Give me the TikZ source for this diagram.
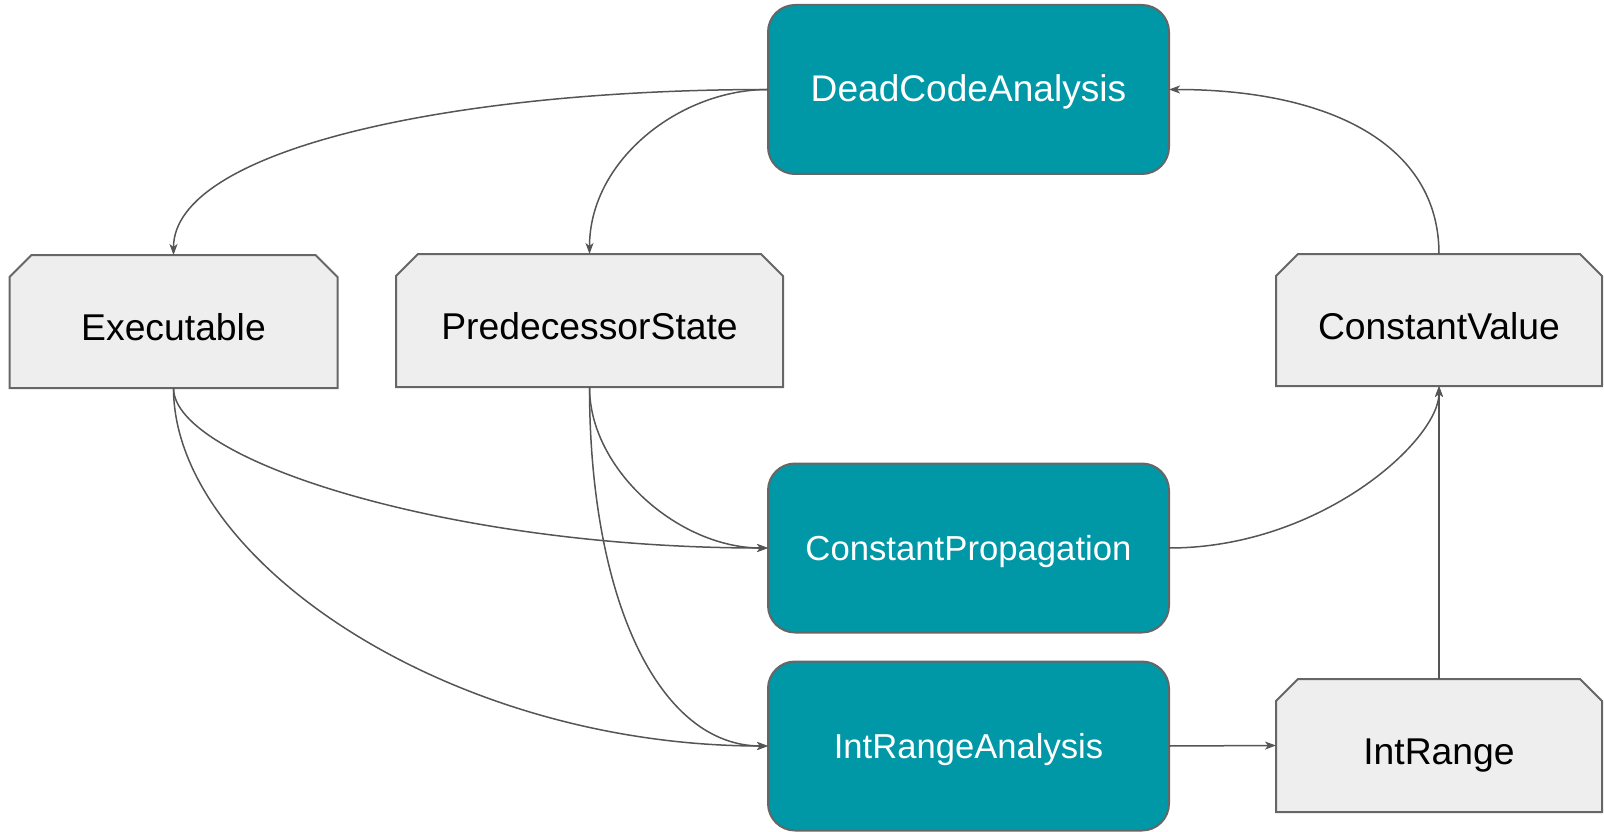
\documentclass[tikz,border=0pt]{standalone}
\usepackage{fontspec}
\setmainfont{Liberation Sans}
\usetikzlibrary{arrows.meta}
\definecolor{tealfill}{RGB}{0,151,167}
\definecolor{boxline}{RGB}{102,102,102}
\definecolor{greyfill}{RGB}{238,238,238}
\definecolor{edgeline}{RGB}{85,85,85}
\pgfdeclarelayer{bg}
\pgfsetlayers{bg,main}
\tikzset{
  labelsize/.style={font=\fontsize{#1}{#1}\selectfont},
  analysis/.style={labelsize=#1, draw=boxline, line width=2pt, fill=tealfill,
    text=white, rounded corners=27pt, minimum width=401pt, minimum height=169pt,
    inner sep=0pt, outer sep=0pt, text height=25pt, text depth=0pt},
  lattice/.style={labelsize=37.3, text=black, inner sep=0pt, outer sep=0pt,
    text height=38pt, text depth=0pt},
  chamfer/.style={draw=boxline, line width=2pt, fill=greyfill},
  dep/.style={draw=edgeline, line width=1.5pt,
    -{Stealth[length=11pt, width=8pt, inset=3pt]}},
}
\begin{document}
\begin{tikzpicture}[x=1pt, y=-1pt]
\useasboundingbox (0,0) rectangle (1604,832);

% analyses
\node[analysis=37.1] (dca) at (968.5,89.5) {DeadCodeAnalysis};
\node[analysis=34.7] (cp)  at (968.5,548)  {ConstantPropagation};
\node[analysis=34.6] (ira) at (968.5,746)  {IntRangeAnalysis};

% lattice states
\node[lattice, minimum width=328pt, minimum height=133pt] (exe) at (173.5,321.5) {Executable};
\node[lattice, minimum width=387pt, minimum height=133pt] (ps)  at (589.5,320.5) {PredecessorState};
\node[lattice, minimum width=326pt, minimum height=132pt] (cv)  at (1439,320)    {ConstantValue};
\node[lattice, minimum width=326pt, minimum height=133pt] (ir)  at (1439,745.5)  {IntRange};

% chamfered outlines behind the state labels
\begin{pgfonlayer}{bg}
\foreach \n in {exe,ps,cv,ir}
  \draw[chamfer] ([xshift=22pt]\n.north west) -- ([xshift=-22pt]\n.north east)
    -- ([yshift=-22pt]\n.north east) -- (\n.south east) -- (\n.south west)
    -- ([yshift=-22pt]\n.north west) -- cycle;
\end{pgfonlayer}

% dependencies
\draw[dep] (dca.west) .. controls +(-318,0) and +(0,-105) .. (exe.north);
\draw[dep] (dca.west) .. controls +(-88,0) and +(0,-94) .. (ps.north);
\draw[dep] (cv.north) .. controls +(0,-110) and +(160,0) .. (dca.east);
\draw[dep] (exe.south) .. controls +(0,72) and +(-319,0) .. (cp.west);
\draw[dep] (exe.south) .. controls +(0,172) and +(-319,0) .. (ira.west);
\draw[dep] (ps.south) .. controls +(0,83) and +(-89,0) .. (cp.west);
\draw[dep] (ps.south) .. controls +(0,213) and +(-109,0) .. (ira.west);
\draw[dep] (cp.east) .. controls +(152,0) and +(0,54) .. (cv.south);
\draw[dep] (ir.north) -- (cv.south);
\draw[dep] (ira.east) -- (ir.west);
\end{tikzpicture}
\end{document}
